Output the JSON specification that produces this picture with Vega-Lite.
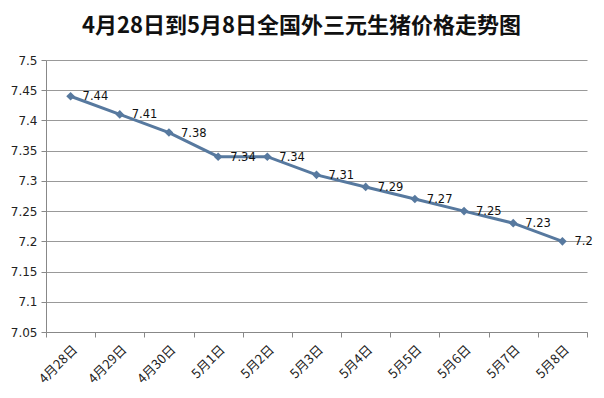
{
  "$schema": "https://vega.github.io/schema/vega-lite/v6.json",
  "width": 541,
  "height": 272,
  "autosize": "none",
  "padding": {"left": 46, "top": 60, "right": 17, "bottom": 66},
  "background": "white",
  "title": {
    "text": "4月28日到5月8日全国外三元生猪价格走势图",
    "font": "Noto Sans CJK SC",
    "fontSize": 22,
    "fontWeight": "bold",
    "color": "#111111",
    "anchor": "middle",
    "dx": -15,
    "offset": 16
  },
  "config": {
    "view": {"stroke": null},
    "axis": {"labelFont": "DejaVu Sans", "labelColor": "#222222", "domainColor": "#888888", "tickColor": "#888888", "gridColor": "#999999"}
  },
  "data": {
    "values": [
      {"date": "4月28日", "price": 7.44},
      {"date": "4月29日", "price": 7.41},
      {"date": "4月30日", "price": 7.38},
      {"date": "5月1日", "price": 7.34},
      {"date": "5月2日", "price": 7.34},
      {"date": "5月3日", "price": 7.31},
      {"date": "5月4日", "price": 7.29},
      {"date": "5月5日", "price": 7.27},
      {"date": "5月6日", "price": 7.25},
      {"date": "5月7日", "price": 7.23},
      {"date": "5月8日", "price": 7.2}
    ]
  },
  "encoding": {
    "x": {
      "field": "date",
      "type": "ordinal",
      "sort": null,
      "scale": {"type": "band", "paddingInner": 0, "paddingOuter": 0},
      "axis": {
        "title": null,
        "labelAngle": -45,
        "labelFont": "Noto Sans CJK SC",
        "labelFontSize": 13,
        "tickBand": "extent",
        "tickSize": 5,
        "labelPadding": 6,
        "grid": false
      }
    },
    "y": {
      "field": "price",
      "type": "quantitative",
      "scale": {"domain": [7.05, 7.5], "zero": false, "nice": false},
      "axis": {
        "title": null,
        "values": [7.05, 7.1, 7.15, 7.2, 7.25, 7.3, 7.35, 7.4, 7.45, 7.5],
        "format": "~g",
        "labelFontSize": 12,
        "tickSize": 5,
        "labelPadding": 4,
        "grid": true
      }
    }
  },
  "layer": [
    {
      "mark": {"type": "line", "color": "#57799F", "strokeWidth": 3}
    },
    {
      "mark": {"type": "point", "shape": "diamond", "filled": true, "color": "#57799F", "size": 75, "opacity": 1}
    },
    {
      "mark": {"type": "text", "align": "left", "baseline": "middle", "dx": 12, "dy": 1, "font": "DejaVu Sans", "fontSize": 11.5, "color": "#111111"},
      "encoding": {"text": {"field": "price", "type": "quantitative", "format": "~g"}}
    }
  ]
}
